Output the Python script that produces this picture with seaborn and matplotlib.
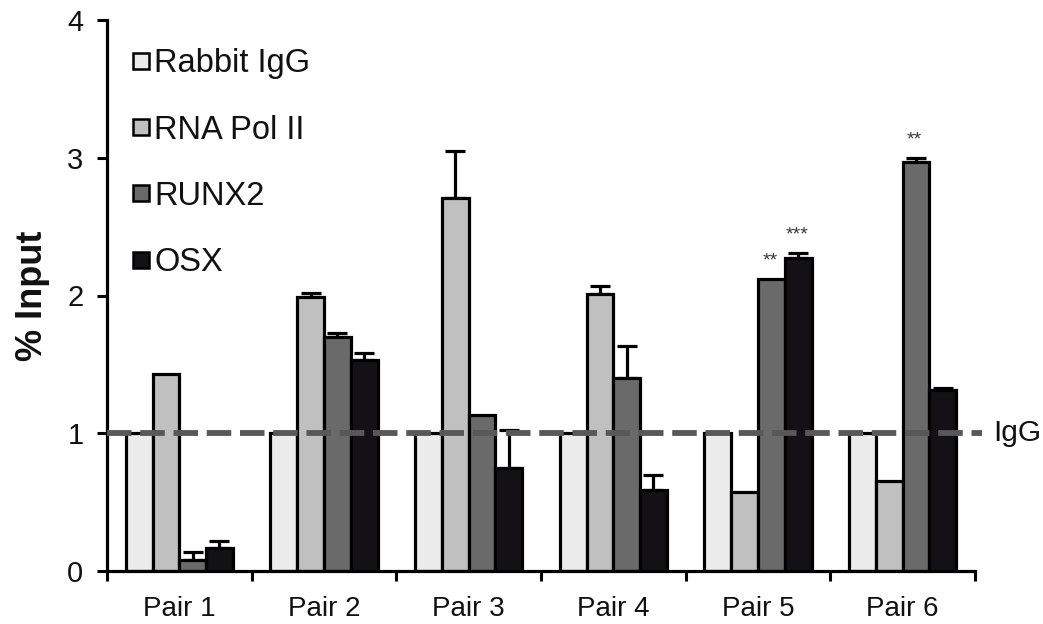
import matplotlib
matplotlib.use("Agg")
import matplotlib.pyplot as plt
import seaborn as sns
import pandas as pd
import numpy as np
from matplotlib.lines import Line2D
from matplotlib.ticker import FixedLocator, NullFormatter, FixedFormatter

# ---------------- data ----------------
pairs = ["Pair 1", "Pair 2", "Pair 3", "Pair 4", "Pair 5", "Pair 6"]
antibodies = ["Rabbit IgG", "RNA Pol II", "RUNX2", "OSX"]

igg_vals = [1.0, 1.0, 1.0, 1.0, 1.0, 1.0]
rna_vals = [1.43, 1.99, 2.71, 2.01, 0.575, 0.655]
runx2_vals = [0.08, 1.70, 1.13, 1.40, 2.12, 2.97]
osx_vals = [0.165, 1.53, 0.75, 0.59, 2.27, 1.315]

igg_err = [0.0, 0.0, 0.0, 0.0, 0.0, 0.0]
rna_err = [0.0, 0.025, 0.34, 0.06, 0.0, 0.0]
runx2_err = [0.06, 0.025, 0.0, 0.23, 0.0, 0.03]
osx_err = [0.055, 0.05, 0.27, 0.11, 0.035, 0.01]

star_pairs = ["Pair 5", "Pair 5", "Pair 6"]
star_series = ["RUNX2", "OSX", "RUNX2"]
star_text = ["**", "***", "**"]

igg_level = 1.0
igg_label = "IgG"

colors = ["#ececec", "#c0c0c0", "#6a6a6b", "#141116"]

# ---------------- build table ----------------
vals = {"Rabbit IgG": igg_vals, "RNA Pol II": rna_vals, "RUNX2": runx2_vals, "OSX": osx_vals}
errs = {"Rabbit IgG": igg_err, "RNA Pol II": rna_err, "RUNX2": runx2_err, "OSX": osx_err}
rows = []
for ab in antibodies:
    for p, v, e in zip(pairs, vals[ab], errs[ab]):
        rows.append({"pair": p, "antibody": ab, "value": v, "err": e})
df = pd.DataFrame(rows)

sns.set_theme(style="white")
plt.rcParams["font.family"] = ["Liberation Sans", "DejaVu Sans"]

fig = plt.figure(figsize=(10.43, 6.24), dpi=100)
ax = fig.add_axes([107 / 1043, 53 / 624, 868 / 1043, 551 / 624])

sns.barplot(data=df, x="pair", y="value", hue="antibody", order=pairs,
            hue_order=antibodies, palette=colors, errorbar=None,
            width=0.74, gap=0, edgecolor="black", linewidth=2.3,
            saturation=1, ax=ax, legend=False, zorder=2)

# error bars (upper only) from patch positions
for cont, ab in zip(ax.containers, antibodies):
    for bar, p in zip(cont.patches, pairs):
        row = df[(df.antibody == ab) & (df.pair == p)].iloc[0]
        if row.err <= 0:
            continue
        xc = bar.get_x() + bar.get_width() / 2
        top = bar.get_height()
        ax.errorbar([xc], [top], yerr=[[0], [row.err]], fmt="none",
                    ecolor="black", elinewidth=2.3, capsize=7.5, capthick=2.3,
                    zorder=1)

# significance stars
for p, ab, t in zip(star_pairs, star_series, star_text):
    i = antibodies.index(ab)
    j = pairs.index(p)
    bar = ax.containers[i].patches[j]
    row = df[(df.antibody == ab) & (df.pair == p)].iloc[0]
    xc = bar.get_x() + bar.get_width() / 2
    ax.annotate(t, xy=(xc, row.value + row.err), xytext=(-1, 13),
                textcoords="offset points", ha="center", va="center",
                fontsize=14, color="#3a3a3a")

# IgG reference dashed line
ax.plot([-0.5, 5.55], [igg_level, igg_level], color="#58585a", lw=4.2,
        dashes=(4.2, 1.5), solid_capstyle="butt", dash_capstyle="butt",
        clip_on=False, zorder=5)
ax.text(1.021, igg_level, igg_label, transform=ax.get_yaxis_transform(),
        ha="left", va="center", fontsize=21.5, color="#111111")

# axes styling
ax.set_xlim(-0.5, 5.5)
ax.set_ylim(0, 4)
ax.set_yticks([0, 1, 2, 3, 4])
ax.set_yticklabels(["0", "1", "2", "3", "4"])
ax.xaxis.set_major_locator(FixedLocator(np.arange(-0.5, 6.0, 1.0)))
ax.xaxis.set_major_formatter(NullFormatter())
ax.xaxis.set_minor_locator(FixedLocator(np.arange(0, 6)))
ax.xaxis.set_minor_formatter(FixedFormatter(pairs))
ax.tick_params(axis="x", which="major", direction="out", length=7, width=2.2,
               color="black", bottom=True)
ax.tick_params(axis="x", which="minor", length=0, labelsize=20, pad=18,
               labelcolor="#111111", bottom=True)
ax.tick_params(axis="y", direction="out", length=7, width=2.2, color="black",
               labelsize=21, pad=10, labelcolor="#111111", left=True)
for s in ["top", "right"]:
    ax.spines[s].set_visible(False)
for s in ["left", "bottom"]:
    ax.spines[s].set_linewidth(2.3)
    ax.spines[s].set_color("black")
ax.set_xlabel("")
ax.set_ylabel("% Input", fontsize=26, fontweight="bold", labelpad=12,
              color="#111111")

# legend
handles = [Line2D([0], [0], marker="s", linestyle="none", markersize=12,
                  markerfacecolor=c, markeredgecolor="black",
                  markeredgewidth=1.8) for c in colors]
leg = ax.legend(handles, antibodies, loc="upper left",
                bbox_to_anchor=(0.0, 0.99), frameon=False, fontsize=23.5,
                handlelength=0.7, handletextpad=0.05, labelspacing=1.08,
                borderaxespad=0.3)
for t in leg.get_texts():
    t.set_color("#111111")

fig.savefig("out.png", dpi=100)
